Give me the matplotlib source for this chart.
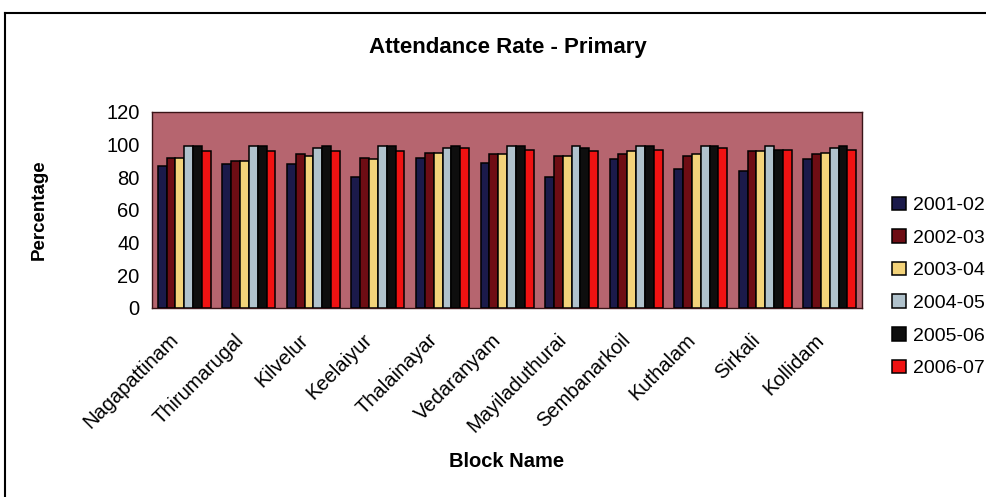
import matplotlib.pyplot as plt
import numpy as np
from matplotlib.lines import Line2D
from matplotlib.transforms import ScaledTranslation

plt.rcParams['font.family'] = ['Liberation Sans', 'DejaVu Sans']

# attendance rate (%) per block, one list per school year
blocks = ['Nagapattinam', 'Thirumarugal', 'Kilvelur', 'Keelaiyur', 'Thalainayar',
          'Vedaranyam', 'Mayiladuthurai', 'Sembanarkoil', 'Kuthalam', 'Sirkali', 'Kollidam']
years = ['2001-02', '2002-03', '2003-04', '2004-05', '2005-06', '2006-07']
r2001 = [87, 88, 88, 80, 92, 89, 80, 91, 85, 84, 91]
r2002 = [92, 90, 94, 92, 95, 94, 93, 94, 93, 96, 94]
r2003 = [92, 90, 93, 91, 95, 94, 93, 96, 94, 96, 95]
r2004 = [99, 99, 98, 99, 98, 99, 99, 99, 99, 99, 98]
r2005 = [99, 99, 99, 99, 99, 99, 98, 99, 99, 97, 99]
r2006 = [96, 96, 96, 96, 98, 97, 96, 97, 98, 97, 97]
series = [r2001, r2002, r2003, r2004, r2005, r2006]
colors = ['#1b1a4a', '#6e0d14', '#f3d37a', '#b0c2cc', '#0e0e0e', '#f01212']

fig = plt.figure(figsize=(9.86, 4.97), dpi=100)
ax = fig.add_axes([0.1542, 0.3803, 0.7201, 0.3944])
ax.set_facecolor('#b6656f')

x = np.arange(len(blocks))
w = 0.137
for i, (vals, c) in enumerate(zip(series, colors)):
    ax.bar(x + (i - 2.5) * w, vals, width=w, color=c, edgecolor='black',
           linewidth=1.1, label=years[i], zorder=3)

ax.set_xlim(-0.5, len(blocks) - 0.5)
ax.set_ylim(0, 120)
ax.set_yticks(range(0, 121, 20))
ax.tick_params(axis='y', length=0, labelsize=14.5, pad=9)
ax.tick_params(axis='x', length=0, pad=16)
ax.set_xticks(x)
ax.set_xticklabels(blocks, rotation=45, ha='right', rotation_mode='anchor',
                   fontsize=14.5)
# nudge the slanted names left so they end under the group centre
shift = ScaledTranslation(-11 / 72, 0, fig.dpi_scale_trans)
for lbl in ax.get_xticklabels():
    lbl.set_transform(lbl.get_transform() + shift)
for s in ax.spines.values():
    s.set_color('#3a1418')
    s.set_linewidth(1.0)

ax.set_ylabel('Percentage', fontsize=13.5, fontweight='bold', labelpad=42)
ax.set_xlabel('Block Name', fontsize=14.5, fontweight='bold', labelpad=11)
fig.text(0.515, 0.905, 'Attendance Rate - Primary', ha='center', va='center',
         fontsize=16, fontweight='bold')

ax.legend(loc='upper left', bbox_to_anchor=(0.897, 0.62),
          bbox_transform=fig.transFigure, frameon=False, fontsize=14,
          handlelength=0.7, handleheight=0.7, handletextpad=0.35,
          labelspacing=0.77, borderaxespad=0)

# outer chart frame
fig.add_artist(Line2D([0.005, 1.0], [0.974, 0.974], color='black', lw=1.5))
fig.add_artist(Line2D([0.005, 0.005], [0.0, 0.974], color='black', lw=1.5))

fig.savefig('out.png', dpi=100)
